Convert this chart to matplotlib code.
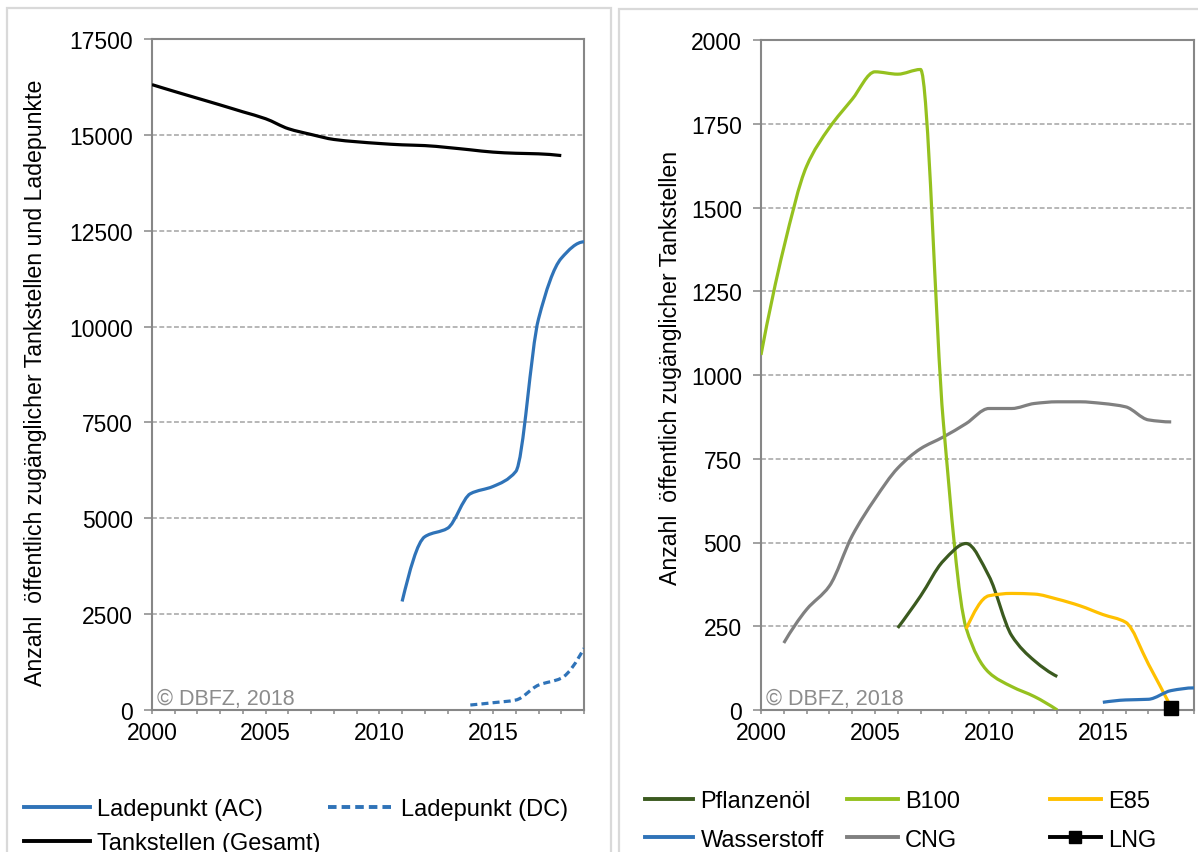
import numpy as np
import matplotlib
matplotlib.use("Agg")
import matplotlib.pyplot as plt
from matplotlib.path import Path
from matplotlib.patches import PathPatch, Rectangle
from matplotlib.lines import Line2D

plt.rcParams["font.family"] = ["Liberation Sans", "DejaVu Sans"]

# ---- left panel: charging points and total fuel stations ----
years_tank = list(range(2000, 2019))
tankstellen = [16310, 16130, 15955, 15780, 15600, 15420, 15160, 15010, 14880,
               14820, 14775, 14740, 14720, 14670, 14610, 14550, 14520, 14505, 14460]

years_ac = list(range(2011, 2020))
ladepunkt_ac = [2830, 4520, 4740, 5640, 5830, 6220, 10200, 11780, 12210]

years_dc = list(range(2014, 2020))
ladepunkt_dc = [130, 190, 260, 650, 830, 1610]

# ---- right panel: alternative fuel stations ----
years_pfl = list(range(2006, 2014))
pflanzenoel = [245, 340, 445, 497, 400, 222, 147, 100]

years_b100 = list(range(2000, 2014))
b100 = [1060, 1380, 1623, 1738, 1823, 1905, 1898, 1912, 860, 245, 112, 70, 40, 0]

years_e85 = list(range(2009, 2019))
e85 = [242, 341, 348, 346, 331, 311, 285, 262, 137, 8]

years_h2 = list(range(2015, 2020))
wasserstoff = [23, 30, 32, 58, 66]

years_cng = list(range(2001, 2019))
cng = [200, 300, 370, 520, 630, 722, 780, 815, 855, 900, 900, 915, 920, 920,
       915, 905, 866, 860]

years_lng = [2018]
lng = [5]

BLUE = "#2f73b8"
SPINE = "#878787"
GRID = "#a3a3a3"
TICK_FS = 16.5
LEG_FS = 17


def pchip_slopes(x, y):
    """Shape-preserving tangents (Fritsch-Carlson) at each point."""
    h = np.diff(x)
    d = np.diff(y) / h
    n = len(x)
    m = np.zeros(n)
    if n == 2:
        m[:] = d[0]
        return m
    for k in range(1, n - 1):
        if d[k - 1] * d[k] > 0:
            w1 = 2 * h[k] + h[k - 1]
            w2 = h[k] + 2 * h[k - 1]
            m[k] = (w1 + w2) / (w1 / d[k - 1] + w2 / d[k])

    def end(h0, h1, d0, d1):
        s = ((2 * h0 + h1) * d0 - h0 * d1) / (h0 + h1)
        if np.sign(s) != np.sign(d0):
            return 0.0
        if np.sign(d0) != np.sign(d1) and abs(s) > abs(3 * d0):
            return 3 * d0
        return s

    m[0] = end(h[0], h[1], d[0], d[1])
    m[-1] = end(h[-1], h[-2], d[-1], d[-2])
    return m


def smooth_path(x, y):
    """Cubic Bezier path through the points without overshoot."""
    x = np.asarray(x, float)
    y = np.asarray(y, float)
    m = pchip_slopes(x, y)
    verts = [(x[0], y[0])]
    codes = [Path.MOVETO]
    for i in range(len(x) - 1):
        h = x[i + 1] - x[i]
        verts += [(x[i] + h / 3, y[i] + m[i] * h / 3),
                  (x[i + 1] - h / 3, y[i + 1] - m[i + 1] * h / 3),
                  (x[i + 1], y[i + 1])]
        codes += [Path.CURVE4] * 3
    return Path(np.array(verts), codes)


def draw_series(ax, x, y, color, ls="-", lw=2.3):
    patch = PathPatch(smooth_path(x, y), fill=False, edgecolor=color,
                      linewidth=lw, linestyle=ls, capstyle="butt",
                      joinstyle="round", transform=ax.transData, zorder=3)
    ax.add_patch(patch)


def style_axes(ax, ymax, ystep):
    ax.set_xlim(2000, 2019)
    ax.set_ylim(0, ymax)
    ax.set_xticks(np.arange(2000, 2016, 5))
    ax.set_xticks(np.arange(2000, 2020, 1), minor=True)
    ax.set_yticks(np.arange(0, ymax + 1, ystep))
    for s in ax.spines.values():
        s.set_color(SPINE)
        s.set_linewidth(1.5)
    ax.tick_params(axis="y", which="major", direction="out", length=5.8,
                   width=1.1, color=SPINE, pad=8, labelsize=TICK_FS)
    ax.tick_params(axis="x", which="both", direction="out", length=3.2,
                   width=1.1, color=SPINE, pad=5, labelsize=TICK_FS)
    ax.yaxis.grid(True, color=GRID, linestyle=(0, (3.2, 1.6)), linewidth=1.1)
    ax.set_axisbelow(True)
    ax.text(0.012, 0.009, "\u00a9 DBFZ, 2018", transform=ax.transAxes,
            fontsize=15.5, color="#8c8c8c", ha="left", va="baseline")


W, H = 1198, 853
fig = plt.figure(figsize=(W / 100, H / 100), dpi=100)
fig.patch.set_facecolor("white")

# light panel frames
for (x0, y0, x1) in [(7, 9, 611), (619, 10, 1205)]:
    fig.add_artist(Rectangle((x0 / W, -0.05), (x1 - x0) / W, 1.05 - y0 / H,
                             transform=fig.transFigure, fill=False,
                             edgecolor="#d9d9d9", linewidth=1.6, zorder=0))

axL = fig.add_axes([152 / W, 1 - 711 / H, (584 - 152) / W, (711 - 40) / H])
axR = fig.add_axes([761 / W, 1 - 711 / H, (1194 - 761) / W, (711 - 41) / H])

style_axes(axL, 17500, 2500)
style_axes(axR, 2000, 250)

# left panel series
draw_series(axL, years_tank, tankstellen, "black")
draw_series(axL, years_ac, ladepunkt_ac, BLUE)
draw_series(axL, years_dc, ladepunkt_dc, BLUE, ls=(0, (2.2, 1.3)))

# right panel series
draw_series(axR, years_cng, cng, "#808080")
draw_series(axR, years_b100, b100, "#95c11f")
draw_series(axR, years_pfl, pflanzenoel, "#3b5a1f")
draw_series(axR, years_e85, e85, "#ffc000")
draw_series(axR, years_h2, wasserstoff, BLUE)
axR.plot(years_lng, lng, color="black", lw=2.3, marker="s", markersize=9.5,
         zorder=4, clip_on=False)

fig.text(36 / W, 1 - 383 / H,
         "Anzahl  \u00f6ffentlich zug\u00e4nglicher Tankstellen und Ladepunkte",
         rotation=90, ha="center", va="center", fontsize=16.7)
fig.text(670 / W, 1 - 368 / H,
         "Anzahl  \u00f6ffentlich zug\u00e4nglicher Tankstellen",
         rotation=90, ha="center", va="center", fontsize=16.7)

# legends
h_ac = Line2D([], [], color=BLUE, lw=2.8)
h_dc = Line2D([], [], color=BLUE, lw=2.8, ls=(0, (2.2, 1.3)))
h_tank = Line2D([], [], color="black", lw=2.8)
h_pfl = Line2D([], [], color="#3b5a1f", lw=2.8)
h_b100 = Line2D([], [], color="#95c11f", lw=2.8)
h_e85 = Line2D([], [], color="#ffc000", lw=2.8)
h_h2 = Line2D([], [], color=BLUE, lw=2.8)
h_cng = Line2D([], [], color="#808080", lw=2.8)
h_lng = Line2D([], [], color="black", lw=2.8, marker="s", markersize=9)


def add_legend(handles, labels, x, y, hlen, spacing):
    return fig.legend(handles, labels, loc="upper left",
                      bbox_to_anchor=(x / W, 1 - y / H),
                      bbox_transform=fig.transFigure, frameon=False,
                      borderpad=0, borderaxespad=0, fontsize=LEG_FS,
                      handlelength=hlen, handletextpad=0.3,
                      labelspacing=spacing, handleheight=0.7)


add_legend([h_ac, h_tank], ["Ladepunkt (AC)", "Tankstellen (Gesamt)"], 24, 799, 2.8, 0.52)
add_legend([h_dc], ["Ladepunkt (DC)"], 328, 799, 2.8, 0.52)
add_legend([h_pfl, h_h2], ["Pflanzen\u00f6l", "Wasserstoff"], 645, 791, 2.05, 0.7)
add_legend([h_b100, h_cng], ["B100", "CNG"], 847, 791, 2.15, 0.7)
add_legend([h_e85, h_lng], ["E85", "LNG"], 1050, 791, 2.15, 0.7)

fig.savefig("out.png", dpi=100, facecolor="white")
